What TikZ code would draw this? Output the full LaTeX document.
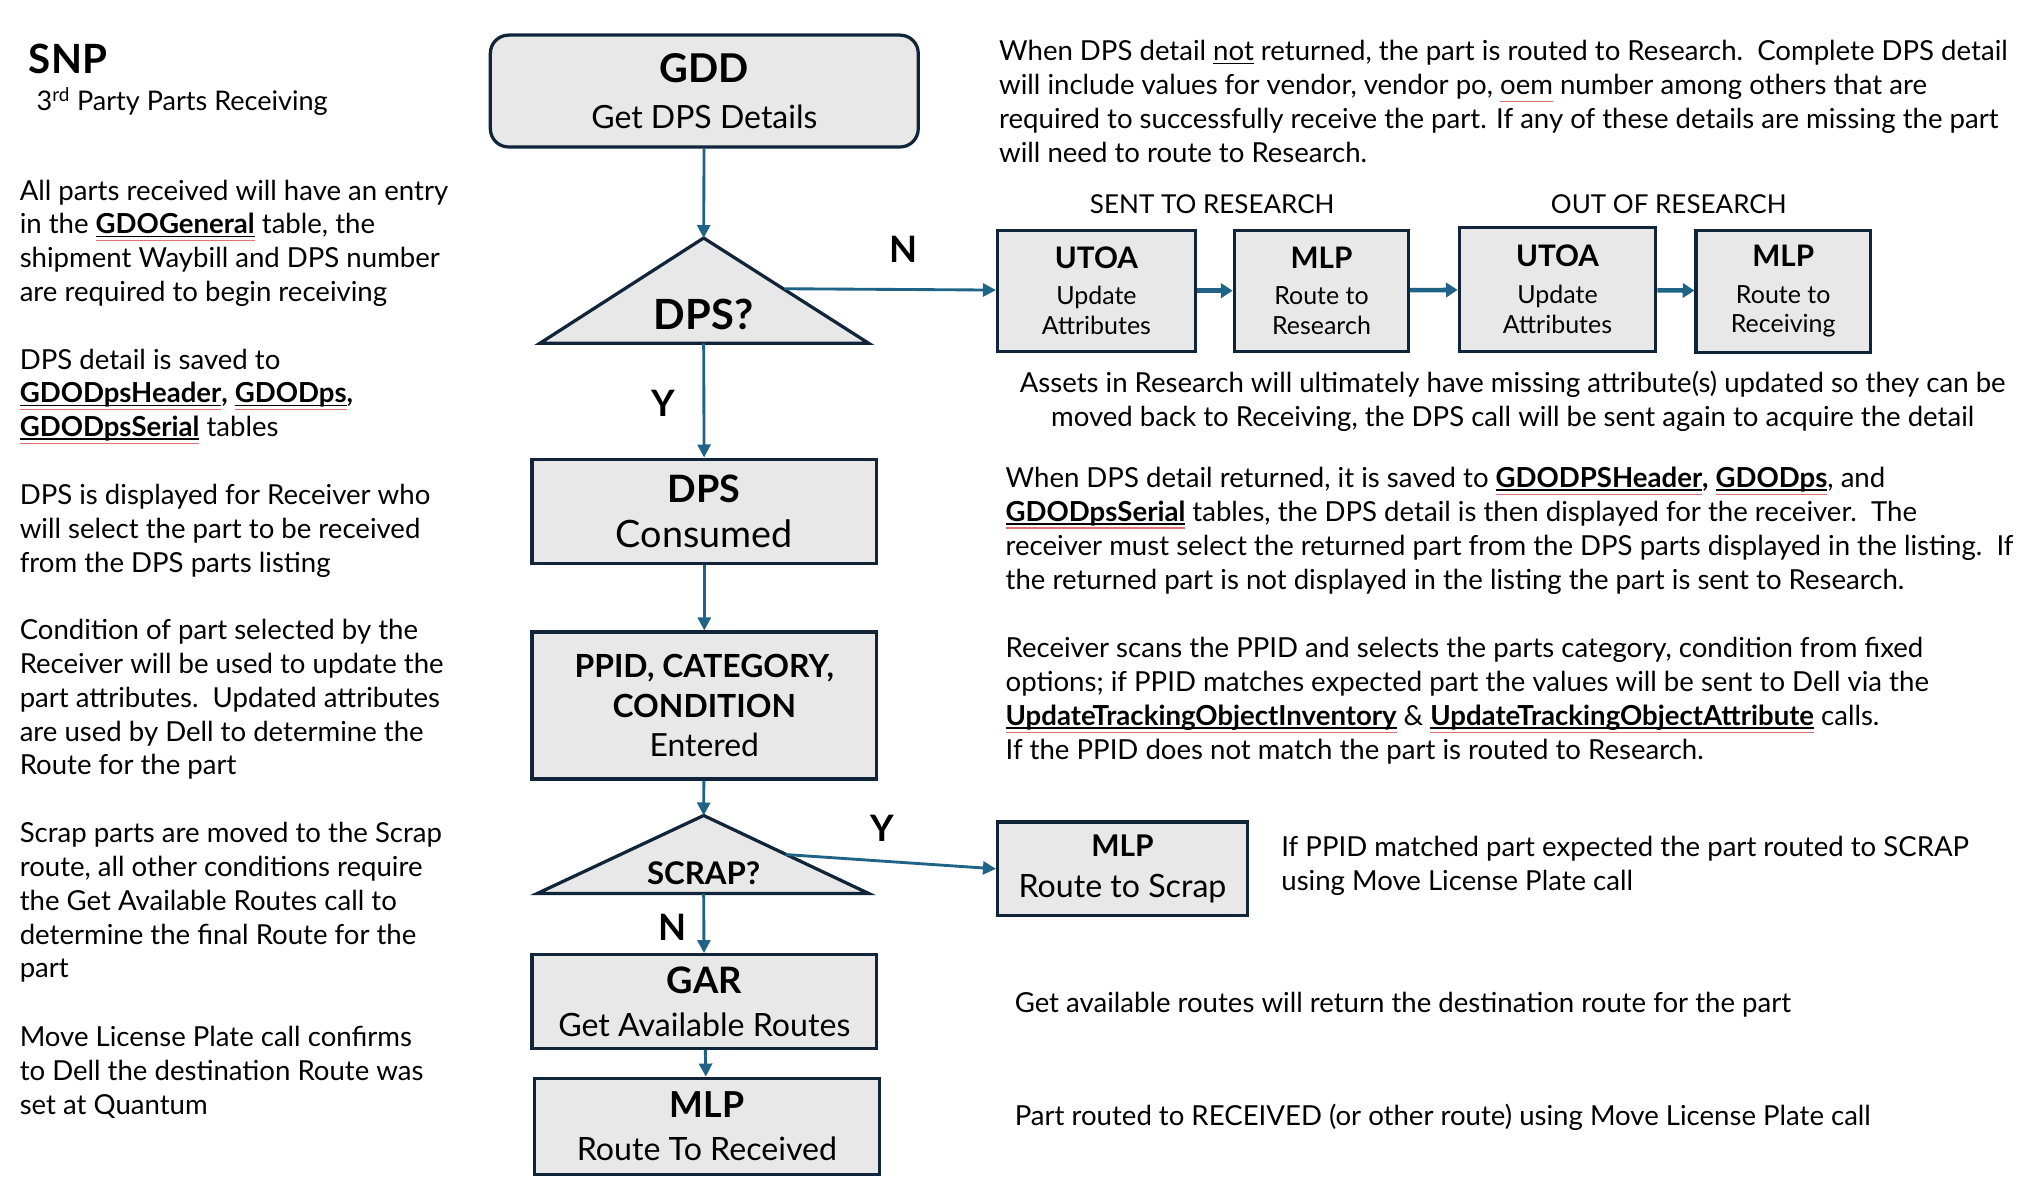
\documentclass[tikz,border=0pt]{standalone}
\usepackage{fontspec}
\setmainfont{Lato}
\usepackage{tikz}
\usetikzlibrary{arrows.meta, positioning}
\definecolor{boxline}{HTML}{10253A}
\definecolor{boxfill}{HTML}{E8E8E8}
\definecolor{flow}{HTML}{1F6487}
\definecolor{spellred}{HTML}{E07070}
\newlength\markwd
\newcommand\tbl[1]{\settowidth\markwd{\textbf{#1}}\textbf{#1}\llap{\rule[-2.5pt]{\markwd}{1.2pt}}\llap{\textcolor{spellred}{\rule[-5.5pt]{\markwd}{0.9pt}}}}
\newcommand\oem[1]{\settowidth\markwd{#1}#1\llap{\textcolor{spellred}{\rule[-5.5pt]{\markwd}{0.9pt}}}}
\newcommand\uline[1]{\settowidth\markwd{#1}#1\llap{\rule[-2.5pt]{\markwd}{1pt}}}
\tikzstyle{flowline} = [draw=flow, line width=2.2pt, -{Triangle[length=10pt,width=10pt]}]
\tikzstyle{shortline} = [draw=flow, line width=3.5pt, -{Triangle[length=9pt,width=11pt]}]
\tikzstyle{block} = [rectangle, draw=boxline, fill=boxfill, line width=2.5pt, align=center, inner sep=0pt]
\tikzstyle{decision} = [draw=boxline, fill=boxfill, line width=2.5pt, line join=miter]
\tikzstyle{note} = [anchor=north west, inner sep=0pt, align=left, font=\fontsize{21.2}{26}\selectfont]
\tikzstyle{answer} = [inner sep=0pt, font=\fontsize{28}{30}\selectfont\bfseries]
\tikzstyle{phase} = [inner sep=0pt, font=\fontsize{20}{22}\selectfont]

\begin{document}
\begin{tikzpicture}[x=1pt, y=-1pt]
    \fill [white] (0,0) rectangle (1560,915);
    \useasboundingbox (0,0) rectangle (1560,915);

    % main flow
    \node [block, rounded corners=14pt, minimum width=329, minimum height=86, font=\fontsize{24.6}{35}\selectfont] (gdd) at (541.5,70)
      {{\fontsize{30.5}{30}\selectfont\bfseries GDD}\\ Get DPS Details};

    \coordinate (dpsApex) at (541,183);
    \coordinate (dpsBase) at (541,264);
    \coordinate (dpsSide) at (603,222);
    \draw [decision] (dpsApex) -- (668,264) -- (415,264) -- cycle;
    \node [font=\fontsize{32}{32}\selectfont\bfseries, inner sep=0pt] (dpsQ) at (541,242) {DPS?};

    \node [block, minimum width=265, minimum height=80, font=\fontsize{29}{35}\selectfont] (consumed) at (541.5,393)
      {{\bfseries DPS}\\ Consumed};
    \node [block, minimum width=265, minimum height=113, font=\fontsize{24.5}{30.5}\selectfont] (ppid) at (541.5,542.5)
      {{\bfseries PPID, CATEGORY,}\\ {\bfseries CONDITION}\\ Entered};

    \coordinate (scrapApex) at (541,627);
    \coordinate (scrapBase) at (541,687);
    \coordinate (scrapSide) at (604,657);
    \draw [decision] (scrapApex) -- (668,687) -- (413,687) -- cycle;
    \node [font=\fontsize{24}{26}\selectfont\bfseries, inner sep=0pt] (scrapQ) at (541,671) {SCRAP?};

    \node [block, minimum width=265, minimum height=72, font=\fontsize{24.7}{33}\selectfont] (gar) at (541.5,770)
      {{\fontsize{28}{30}\selectfont\bfseries GAR}\\ Get Available Routes};
    \node [block, minimum width=265, minimum height=74, font=\fontsize{24.7}{33}\selectfont] (mlpRec) at (543.5,866)
      {{\fontsize{27.5}{30}\selectfont\bfseries MLP}\\ Route To Received};
    \node [block, minimum width=192, minimum height=72, font=\fontsize{24.7}{31}\selectfont] (mlpScrap) at (863,668)
      {{\fontsize{23}{26}\selectfont\bfseries MLP}\\ Route to Scrap};

    % research loop
    \node [block, minimum width=152, minimum height=93, font=\fontsize{19.2}{23}\selectfont] (utoaA) at (843,223.5)
      {{\fontsize{22.8}{24}\selectfont\bfseries UTOA}\\[5pt] Update\\ Attributes};
    \node [block, minimum width=134, minimum height=93, font=\fontsize{19.2}{23}\selectfont] (mlpA) at (1016,223.5)
      {{\fontsize{22.8}{24}\selectfont\bfseries MLP}\\[5pt] Route to\\ Research};
    \node [block, minimum width=151, minimum height=95, font=\fontsize{19.2}{23}\selectfont] (utoaB) at (1197.5,222.5)
      {{\fontsize{22.8}{24}\selectfont\bfseries UTOA}\\[5pt] Update\\ Attributes};
    \node [block, minimum width=134, minimum height=94, font=\fontsize{19.2}{23}\selectfont] (mlpB) at (1371,224)
      {{\fontsize{22.8}{24}\selectfont\bfseries MLP}\\[5pt] Route to\\ Receiving};
    \node [phase] (sentLbl) at (932,157) {SENT TO RESEARCH};
    \node [phase] (outLbl) at (1283,157) {OUT OF RESEARCH};

    \node [answer] (dpsNo) at (695,192) {N};
    \node [answer] (dpsYes) at (510,310) {Y};
    \node [answer] (scrapYes) at (678,637) {Y};
    \node [answer] (scrapNo) at (517,713) {N};

    \path [flowline] (gdd) -- (dpsApex);
    \path [flowline] (dpsSide) -- (utoaA);
    \path [flowline] (dpsBase) -- (consumed);
    \path [flowline] (consumed) -- (ppid);
    \path [flowline] (ppid) -- (scrapApex);
    \path [flowline] (scrapSide) -- (mlpScrap.west);
    \path [flowline] (scrapBase) -- (gar);
    \path [flowline] (gar) -- (mlpRec);
    \path [shortline] (utoaA) -- (mlpA);
    \path [shortline] (mlpA) -- (utoaB);
    \path [shortline] (utoaB) -- (mlpB);

    % left notes
    \node [anchor=west, inner sep=0pt, font=\fontsize{31}{32}\selectfont\bfseries] (title) at (22,45) {SNP};
    \node [anchor=west, inner sep=0pt, font=\fontsize{20.8}{24}\selectfont] (subtitle) at (28,78) {3\textsuperscript{rd} Party Parts Receiving};
    \node [note] (noteA) at (15,138) {All parts received will have an entry\\ in the \tbl{GDOGeneral} table, the\\ shipment Waybill and DPS number\\ are required to begin receiving};
    \node [note] (noteB) at (15,268) {DPS detail is saved to\\ \tbl{GDODpsHeader}\textbf{,} \tbl{GDODps}\textbf{,}\\ \tbl{GDODpsSerial} tables};
    \node [note] (noteC) at (15,372) {DPS is displayed for Receiver who\\ will select the part to be received\\ from the DPS parts listing};
    \node [note] (noteD) at (15,476) {Condition of part selected by the\\ Receiver will be used to update the\\ part attributes.\ \ Updated attributes\\ are used by Dell to determine the\\ Route for the part};
    \node [note] (noteE) at (15,632) {Scrap parts are moved to the Scrap\\ route, all other conditions require\\ the Get Available Routes call to\\ determine the final Route for the\\ part};
    \node [note] (noteF) at (15,789) {Move License Plate call confirms\\ to Dell the destination Route was\\ set at Quantum};

    % right notes
    \node [note] (noteG) at (768,31) {When DPS detail \uline{not} returned, the part is routed to Research.\ \ Complete DPS detail\\ will include values for vendor, vendor po, \oem{oem} number among others that are\\ required to successfully receive the part. If any of these details are missing the part\\ will need to route to Research.};
    \node [note, anchor=north, align=center] (noteH) at (1163,285) {Assets in Research will ultimately have missing attribute(s) updated so they can be\\ moved back to Receiving, the DPS call will be sent again to acquire the detail};
    \node [note] (noteI) at (773,359) {When DPS detail returned, it is saved to \tbl{GDODPSHeader}\textbf{,} \tbl{GDODps}, and\\ \tbl{GDODpsSerial} tables, the DPS detail is then displayed for the receiver.\ \ The\\ receiver must select the returned part from the DPS parts displayed in the listing.\ \ If\\ the returned part is not displayed in the listing the part is sent to Research.};
    \node [note] (noteJ) at (773,490) {Receiver scans the PPID and selects the parts category, condition from fixed\\ options; if PPID matches expected part the values will be sent to Dell via the\\ \tbl{UpdateTrackingObjectInventory} \& \tbl{UpdateTrackingObjectAttribute} calls.\\ If the PPID does not match the part is routed to Research.};
    \node [note] (noteK) at (985,643) {If PPID matched part expected the part routed to SCRAP\\ using Move License Plate call};
    \node [note] (noteL) at (780,763) {Get available routes will return the destination route for the part};
    \node [note] (noteM) at (780,849) {Part routed to RECEIVED (or other route) using Move License Plate call};
\end{tikzpicture}
\end{document}
